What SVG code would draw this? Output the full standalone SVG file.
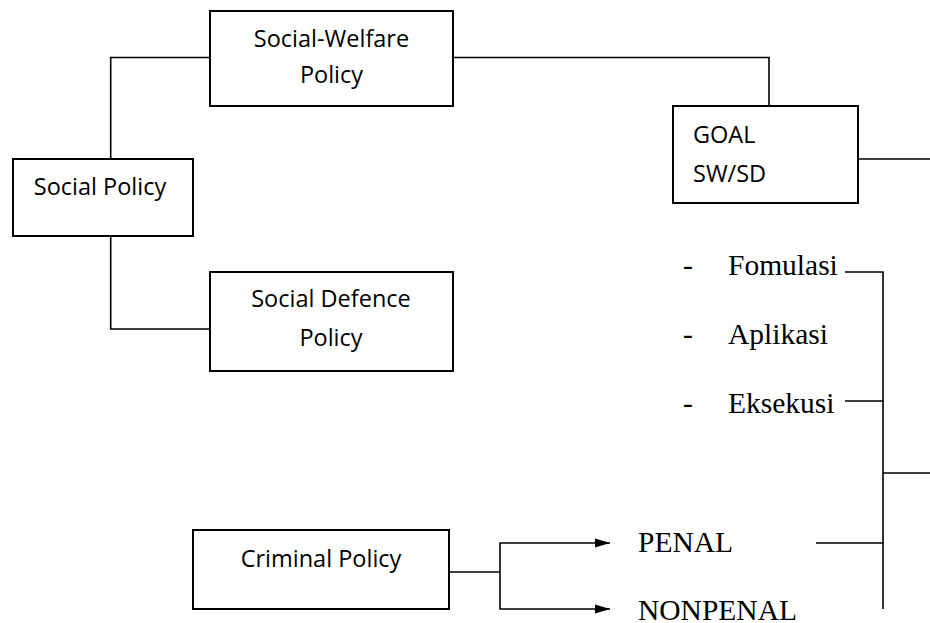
<svg xmlns="http://www.w3.org/2000/svg" width="930" height="623" viewBox="0 0 930 623">
<style>
.box{fill:#fff;stroke:#000;stroke-width:2}
.ln{fill:none;stroke:#000;stroke-width:1.6}
.sans{font-family:"Open Sans","Noto Sans",sans-serif;font-size:23.5px;fill:#000}
.serif{font-family:"Liberation Serif","Times New Roman",serif;font-size:29.5px;fill:#000}
.mid{text-anchor:middle}
</style>
<defs>
<marker id="arr" markerUnits="userSpaceOnUse" markerWidth="16" markerHeight="12" refX="15" refY="6" orient="auto">
<path d="M0,1.5 L15,6 L0,10.5 Z" fill="#000"/>
</marker>
</defs>
<rect width="930" height="623" fill="#fff"/>
<g id="connectors">
<path class="ln" d="M210,57.5 H110.7 V159"/>
<path class="ln" d="M110.7,236 V329 H210"/>
<path class="ln" d="M453,57.5 H769 V106"/>
<path class="ln" d="M858,159 H930"/>
<path class="ln" d="M845,272 H883 V609"/>
<path class="ln" d="M845,401 H883"/>
<path class="ln" d="M883,473 H930"/>
<path class="ln" d="M816,543 H883"/>
<path class="ln" d="M449,572 H500"/>
<path class="ln" d="M500,572 V543 H610" marker-end="url(#arr)"/>
<path class="ln" d="M500,572 V609 H610" marker-end="url(#arr)"/>
</g>
<g id="social-welfare">
<rect class="box" x="210" y="11" width="243" height="95"/>
<text class="sans mid" x="331.5" y="47">Social-Welfare</text>
<text class="sans mid" x="331.5" y="83">Policy</text>
</g>
<g id="social-policy">
<rect class="box" x="13" y="159" width="180" height="77"/>
<text class="sans mid" x="100" y="195">Social Policy</text>
</g>
<g id="social-defence">
<rect class="box" x="210" y="272" width="243" height="99"/>
<text class="sans mid" x="331" y="307">Social Defence</text>
<text class="sans mid" x="331" y="346">Policy</text>
</g>
<g id="goal">
<rect class="box" x="673" y="106" width="185" height="97"/>
<text class="sans" x="693" y="143">GOAL</text>
<text class="sans" x="693" y="182">SW/SD</text>
</g>
<g id="criminal-policy">
<rect class="box" x="193" y="530" width="256" height="79"/>
<text class="sans mid" x="321" y="567">Criminal Policy</text>
</g>
<g id="stages">
<text class="serif" x="683" y="275">-</text>
<text class="serif" x="728" y="275">Fomulasi</text>
<text class="serif" x="683" y="344">-</text>
<text class="serif" x="728" y="344">Aplikasi</text>
<text class="serif" x="683" y="413">-</text>
<text class="serif" x="728" y="413">Eksekusi</text>
</g>
<g id="penal">
<text class="serif" x="638" y="552">PENAL</text>
</g>
<g id="nonpenal">
<text class="serif" x="638" y="620">NONPENAL</text>
</g>
</svg>
